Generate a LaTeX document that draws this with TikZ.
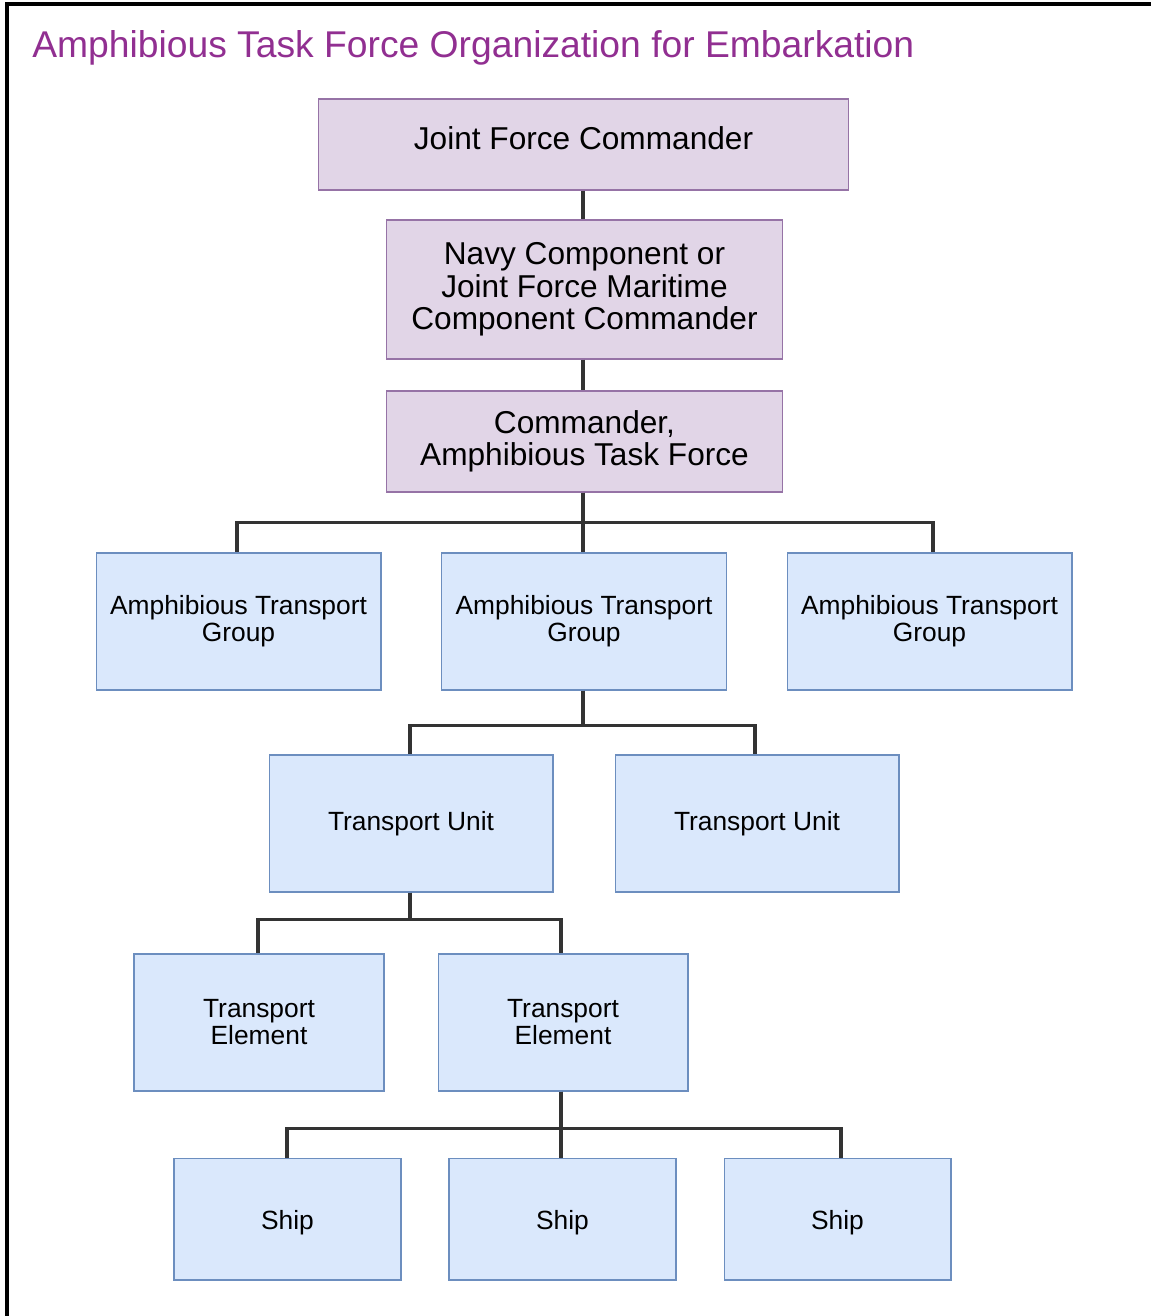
\documentclass[tikz,border=0pt]{standalone}
\usepackage{fontspec}
\setmainfont{Liberation Sans}
\definecolor{cmdfill}{HTML}{E1D5E7}
\definecolor{cmdline}{HTML}{9673A6}
\definecolor{unitfill}{HTML}{DAE8FC}
\definecolor{unitline}{HTML}{6C8EBF}
\definecolor{titlecol}{HTML}{912F91}
\definecolor{linkcol}{HTML}{333333}
\begin{document}
\begin{tikzpicture}[x=0.02cm,y=-0.02cm,
    cmdbox/.style={draw=cmdline,fill=cmdfill,line width=0.6pt,align=center,inner sep=0pt,
        font=\fontsize{18}{18.5}\selectfont},
    unitbox/.style={draw=unitline,fill=unitfill,line width=0.6pt,align=center,inner sep=0pt,
        minimum height=2.74cm,font=\fontsize{15}{15.4}\selectfont},
    link/.style={draw=linkcol,line width=2.2pt}]
    \useasboundingbox (0,0) rectangle (1151,1316);
    \draw[line width=2pt] (7,1316) |- (1151,4);
    \node[anchor=base west,inner sep=0pt,text=titlecol,font=\fontsize{21.2}{21.2}\selectfont] (title) at (32,57)
        {Amphibious Task Force Organization for Embarkation};

    \node[cmdbox,minimum width=10.62cm,minimum height=1.82cm,text depth=0.24cm] (jfc) at (583.5,144.5) {Joint Force Commander};
    \node[cmdbox,minimum width=7.94cm,minimum height=2.78cm] (navy) at (584.5,289.5)
        {Navy Component or\\Joint Force Maritime\\Component Commander};
    \node[cmdbox,minimum width=7.94cm,minimum height=2.02cm] (catf) at (584.5,441.5)
        {Commander,\\Amphibious Task Force};

    \node[unitbox,minimum width=5.7cm] (atga) at (238.5,621.5) {Amphibious Transport\\Group};
    \node[unitbox,minimum width=5.7cm] (atgb) at (584,621.5) {Amphibious Transport\\Group};
    \node[unitbox,minimum width=5.7cm] (atgc) at (929.5,621.5) {Amphibious Transport\\Group};

    \node[unitbox,minimum width=5.68cm] (tua) at (411,823.5) {Transport Unit};
    \node[unitbox,minimum width=5.68cm] (tub) at (757,823.5) {Transport Unit};

    \node[unitbox,minimum width=5cm] (tea) at (259,1022.5) {Transport\\Element};
    \node[unitbox,minimum width=5cm] (teb) at (563,1022.5) {Transport\\Element};

    \node[unitbox,minimum width=4.54cm,minimum height=2.44cm,text height=0.54cm] (shipa) at (287.5,1219) {Ship};
    \node[unitbox,minimum width=4.54cm,minimum height=2.44cm,text height=0.54cm] (shipb) at (562.5,1219) {Ship};
    \node[unitbox,minimum width=4.54cm,minimum height=2.44cm,text height=0.54cm] (shipc) at (837.5,1219) {Ship};

    \draw[link] (jfc.south -| 583,0) -- (navy.north -| 583,0);
    \draw[link] (navy.south -| 583,0) -- (catf.north -| 583,0);
    \draw[link] (catf.south -| 583,0) -- ++(0,30) -| (atga.north -| 237,0);
    \draw[link] (catf.south -| 583,0) -- (atgb.north -| 583,0);
    \draw[link] (catf.south -| 583,0) -- ++(0,30) -| (atgc.north -| 933,0);
    \draw[link] (atgb.south -| 583,0) -- ++(0,35) -| (tua.north -| 410,0);
    \draw[link] (atgb.south -| 583,0) -- ++(0,35) -| (tub.north -| 755,0);
    \draw[link] (tua.south -| 410,0) -- ++(0,27) -| (tea.north -| 258,0);
    \draw[link] (tua.south -| 410,0) -- ++(0,27) -| (teb.north -| 561,0);
    \draw[link] (teb.south -| 561,0) -- ++(0,37) -| (shipa.north -| 287,0);
    \draw[link] (teb.south -| 561,0) -- (shipb.north -| 561,0);
    \draw[link] (teb.south -| 561,0) -- ++(0,37) -| (shipc.north -| 841,0);
\end{tikzpicture}
\end{document}
